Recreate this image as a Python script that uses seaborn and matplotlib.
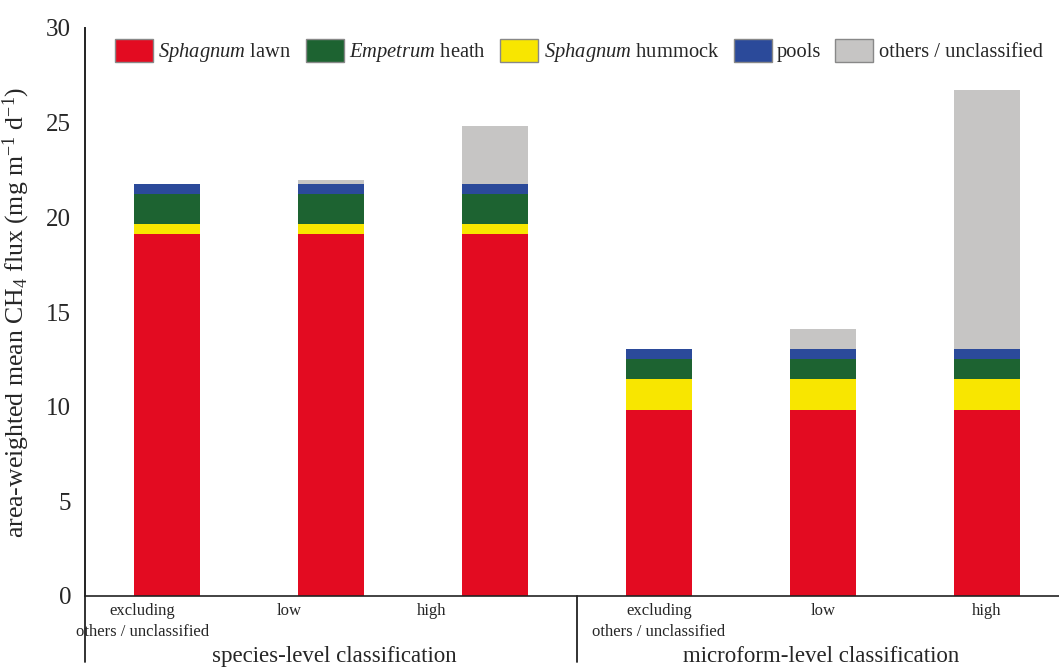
import numpy as np
import pandas as pd
import seaborn as sns
import matplotlib.pyplot as plt
from matplotlib.patches import Patch
from matplotlib.transforms import blended_transform_factory

# bar keys and labels
bar_ids = ['sp_excl', 'sp_low', 'sp_high', 'mf_excl', 'mf_low', 'mf_high']
tick_labels = ['excluding\nothers / unclassified', 'low', 'high',
               'excluding\nothers / unclassified', 'low', 'high']
groups = ['species-level classification', 'microform-level classification']

# stacked segments (mg m-1 d-1), bottom to top
sph_lawn = [19.14, 19.14, 19.14, 9.80, 9.80, 9.80]
sph_hummock = [0.49, 0.49, 0.49, 1.67, 1.67, 1.67]
emp_heath = [1.62, 1.62, 1.62, 1.07, 1.07, 1.07]
pools = [0.49, 0.49, 0.49, 0.49, 0.49, 0.49]
others = [0.0, 0.23, 3.06, 0.0, 1.08, 13.67]

sns.set_style('white')
plt.rcParams['font.family'] = ['Liberation Serif', 'DejaVu Serif']
plt.rcParams['mathtext.fontset'] = 'custom'
plt.rcParams['mathtext.rm'] = 'Liberation Serif'
plt.rcParams['mathtext.it'] = 'Liberation Serif:italic'

df = pd.DataFrame({'bar': bar_ids, 'lawn': sph_lawn, 'hummock': sph_hummock,
                   'heath': emp_heath, 'pools': pools, 'others': others})
layers = ['lawn', 'hummock', 'heath', 'pools', 'others']
colors = {'lawn': '#e30b21', 'hummock': '#f8e600', 'heath': '#1d6331',
          'pools': '#2b4a9a', 'others': '#c6c5c4'}
cum = df[layers].cumsum(axis=1)

fig = plt.figure(figsize=(10.59, 6.69), dpi=100)
ax = fig.add_axes([85/1059, 1-596/669, 1-85/1059, 568/669])

# draw tallest cumulative first so lower layers sit on top
for lay in reversed(layers):
    sns.barplot(x=df['bar'], y=cum[lay], order=bar_ids, color=colors[lay],
                width=0.4, linewidth=0, saturation=1, ax=ax)

ax.set_xlim(-0.5, 5.44)
ax.set_ylim(0, 30)
ax.set_yticks(np.arange(0, 31, 5))
ax.tick_params(axis='y', labelsize=18, length=0, pad=10)
# species-level labels sit left of their bars in the original
ax.set_xticks([-0.15, 0.745, 1.615, 3, 4, 5])
ax.set_xticklabels(tick_labels, fontsize=12, linespacing=1.45)
ax.tick_params(axis='x', length=0, pad=5)
ax.set_xlabel('')
ax.set_ylabel('area-weighted mean CH$_4$ flux (mg m$^{-1}$ d$^{-1}$)',
              fontsize=18.5, labelpad=10)

for s in ['top', 'right']:
    ax.spines[s].set_visible(False)
ax.spines['left'].set_color('#222222')
ax.spines['left'].set_linewidth(1.4)
ax.spines['bottom'].set_color('#222222')
ax.spines['bottom'].set_linewidth(1.2)

tr = blended_transform_factory(ax.transData, ax.transAxes)
for xs in [-0.5, 2.5]:
    ax.plot([xs, xs], [0, -0.117], transform=tr, color='#222222', lw=1.3,
            clip_on=False)
for gx, g in zip([1.02, 3.99], groups):
    ax.text(gx, -0.117, g, transform=tr, ha='center', va='baseline',
            fontsize=16.5)

handles = [Patch(facecolor=colors['lawn'], edgecolor='#888888'),
           Patch(facecolor=colors['heath'], edgecolor='#888888'),
           Patch(facecolor=colors['hummock'], edgecolor='#888888'),
           Patch(facecolor=colors['pools'], edgecolor='#888888'),
           Patch(facecolor=colors['others'], edgecolor='#888888')]
names = ['$\\mathit{Sphagnum}$ lawn', '$\\mathit{Empetrum}$ heath',
         '$\\mathit{Sphagnum}$ hummock', 'pools', 'others / unclassified']
ax.legend(handles, names, ncol=5, frameon=False, fontsize=14.8,
          loc='center', bbox_to_anchor=(0.507, 0.958),
          handlelength=1.85, handleheight=1.3, handletextpad=0.25,
          columnspacing=0.7, borderaxespad=0)

fig.savefig('out.png', dpi=100)
